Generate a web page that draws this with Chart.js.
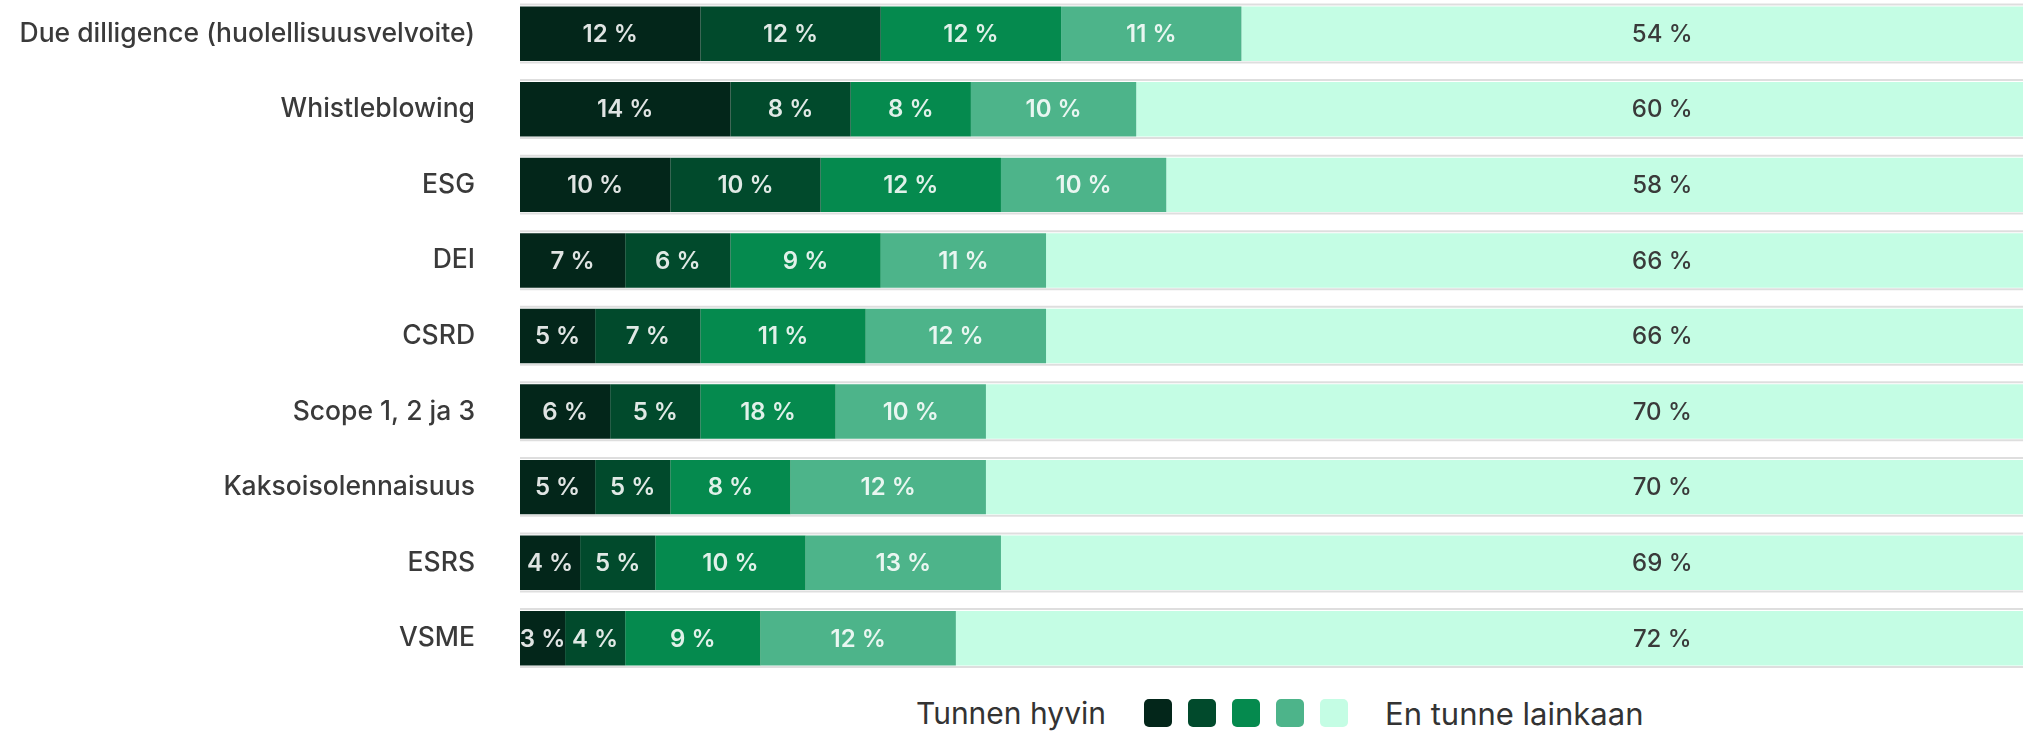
<!DOCTYPE html>
<html>
<head>
<meta charset="utf-8">
<script src="https://cdn.jsdelivr.net/npm/chart.js@4.4.1/dist/chart.umd.min.js"></script>
<style>
  html, body { margin: 0; padding: 0; background: #fff; overflow: hidden; }
  #wrap { position: absolute; top: -20px; left: 0; width: 2023px; height: 712px; }
  #legend {
    position: absolute; top: 694px; left: 0; width: 2023px; height: 38px;
    font-family: Inter, "Noto Sans", sans-serif; color: #333;
  }
  #legend .inner { position: absolute; left: 916px; top: 0; height: 38px; display: flex; align-items: center; white-space: nowrap; }
  #legend .sw { width: 28px; height: 28px; border-radius: 5px; margin-right: 16px; }
</style>
</head>
<body>
<div id="wrap"><canvas id="myChart"></canvas></div>
<div id="legend"><div class="inner" id="legendInner"></div></div>
<script>
// Categories (top to bottom)
const categories = ['Due dilligence (huolellisuusvelvoite)', 'Whistleblowing', 'ESG', 'DEI', 'CSRD',
    'Scope 1, 2 ja 3', 'Kaksoisolennaisuus', 'ESRS', 'VSME'];

// Bar lengths (% of the row)
const level1 = [12, 14, 10, 7, 5, 6, 5, 4, 3];
const level2 = [12, 8, 10, 7, 7, 6, 5, 5, 4];
const level3 = [12, 8, 12, 10, 11, 9, 8, 10, 9];
const level4 = [12, 11, 11, 11, 12, 10, 13, 13, 13];
const level5 = [52, 59, 57, 65, 65, 69, 69, 68, 71];

// Numbers printed on the segments
const text1 = [12, 14, 10, 7, 5, 6, 5, 4, 3];
const text2 = [12, 8, 10, 6, 7, 5, 5, 5, 4];
const text3 = [12, 8, 12, 9, 11, 18, 8, 10, 9];
const text4 = [11, 10, 10, 11, 12, 10, 12, 13, 12];
const text5 = [54, 60, 58, 66, 66, 70, 70, 69, 72];

const colors = ['#03261a', '#014a2c', '#058a4e', '#4db48a', '#c4fde4'];
const legendLeft = 'Tunnen hyvin';
const legendRight = 'En tunne lainkaan';

const FONT = 'Inter, "Noto Sans", sans-serif';

// thin grey lines above and below every bar row
const rowLines = {
    id: 'rowLines',
    beforeDatasetsDraw(chart) {
        const ctx = chart.ctx;
        const area = chart.chartArea;
        const meta = chart.getDatasetMeta(0);
        ctx.save();
        ctx.strokeStyle = 'rgba(0,0,0,0.13)';
        ctx.lineWidth = 2;
        meta.data.forEach((bar) => {
            const top = bar.y - bar.height / 2;
            const bottom = bar.y + bar.height / 2;
            ctx.beginPath();
            ctx.moveTo(area.left, top - 2);
            ctx.lineTo(area.right, top - 2);
            ctx.moveTo(area.left, bottom + 1.5);
            ctx.lineTo(area.right, bottom + 1.5);
            ctx.stroke();
        });
        ctx.restore();
    }
};

// percentage texts on the segments
const segLabels = {
    id: 'segLabels',
    afterDatasetsDraw(chart) {
        const ctx = chart.ctx;
        const xScale = chart.scales.x;
        ctx.save();
        ctx.textBaseline = 'middle';
        ctx.textAlign = 'center';
        chart.data.datasets.forEach((ds, i) => {
            const meta = chart.getDatasetMeta(i);
            meta.data.forEach((bar, j) => {
                const label = ds.shown[j] + ' %';
                if (i === chart.data.datasets.length - 1) {
                    ctx.fillStyle = '#3a3a3a';
                    ctx.font = '500 24px ' + FONT;
                    ctx.fillText(label, xScale.getPixelForValue(76), bar.y + 1);
                } else {
                    const cx = (bar.x + bar.base) / 2;
                    ctx.fillStyle = 'rgba(255,255,255,0.88)';
                    ctx.font = '600 24px ' + FONT;
                    ctx.fillText(label, cx, bar.y + 1);
                }
            });
        });
        ctx.restore();
    }
};

function renderChart() {
    const ctx = document.getElementById('myChart').getContext('2d');
    const series = [level1, level2, level3, level4, level5];
    const shown = [text1, text2, text3, text4, text5];
    new Chart(ctx, {
        type: 'bar',
        data: {
            labels: categories,
            datasets: series.map((vals, i) => ({
                data: vals,
                shown: shown[i],
                backgroundColor: colors[i],
                borderWidth: 0,
                categoryPercentage: 1,
                barPercentage: 0.72
            }))
        },
        options: {
            indexAxis: 'y',
            responsive: true,
            maintainAspectRatio: false,
            animation: false,
            layout: { padding: 0 },
            plugins: { legend: { display: false }, tooltip: { enabled: false } },
            scales: {
                x: { stacked: true, min: 0, max: 100, display: false },
                y: {
                    stacked: true,
                    // tickLength gives the 45px gap between labels and bars
                    grid: { display: false, drawTicks: true, tickLength: 45 },
                    border: { display: false },
                    ticks: {
                        padding: 0,
                        color: '#3a3a3a',
                        font: { family: FONT, size: 26.5, weight: 500 }
                    },
                    afterFit(scale) { scale.width = 520; }
                }
            }
        },
        plugins: [rowLines, segLabels]
    });

    // legend: text, five colour swatches, text
    const inner = document.getElementById('legendInner');
    const left = document.createElement('span');
    left.textContent = legendLeft;
    left.style.fontSize = '30px';
    left.style.marginRight = '38px';
    inner.appendChild(left);
    colors.forEach((c) => {
        const sw = document.createElement('div');
        sw.className = 'sw';
        sw.style.background = c;
        inner.appendChild(sw);
    });
    const right = document.createElement('span');
    right.textContent = legendRight;
    right.style.fontSize = '31px';
    right.style.marginLeft = '21px';
    inner.appendChild(right);
}

renderChart();
</script>
</body>
</html>
